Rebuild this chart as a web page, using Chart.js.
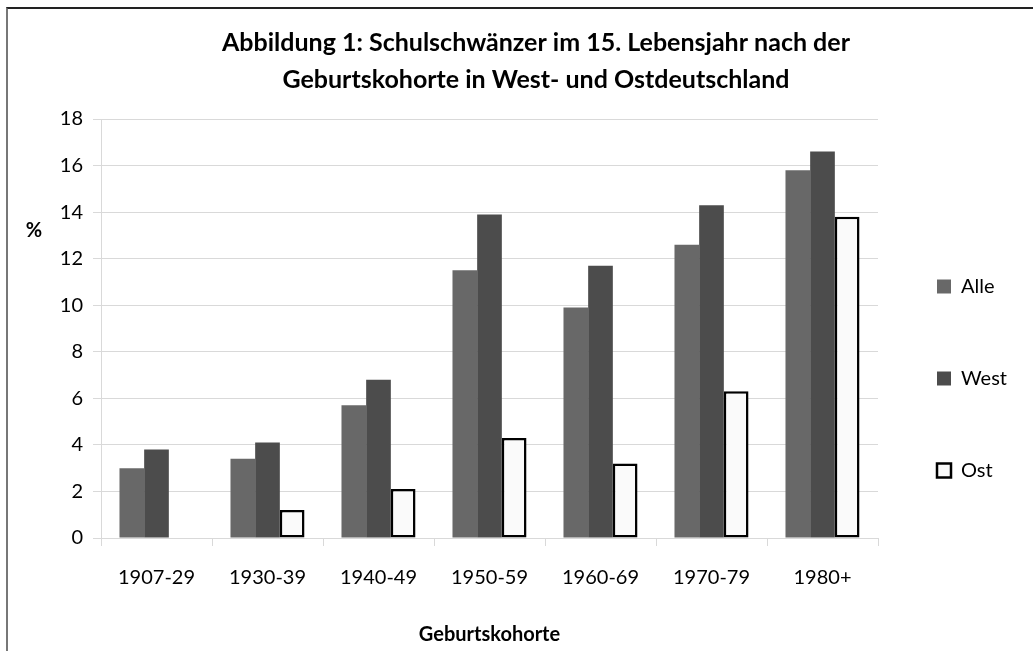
<!DOCTYPE html>
<html>
<head>
<meta charset="utf-8">
<script src="https://cdn.jsdelivr.net/npm/chart.js@4/dist/chart.umd.min.js"></script>
<style>
html, body { margin: 0; padding: 0; background: #fff; overflow: hidden; }
#wrap { position: absolute; left: 0; top: 0; width: 1033px; height: 651px; }
#frame { position: absolute; left: 6px; top: 7px; right: -10px; bottom: -10px;
         border-top: 2px solid #222; border-left: 2px solid #777; pointer-events: none; }
</style>
</head>
<body>
<div id="wrap">
	<canvas id="chart" width="1033" height="651"></canvas>
	<div id="frame"></div>
</div>
<script>
// Daten
const kohorten = ['1907-29', '1930-39', '1940-49', '1950-59', '1960-69', '1970-79', '1980+'];
const alle = [3.0, 3.4, 5.7, 11.5, 9.9, 12.6, 15.8];
const west = [3.8, 4.1, 6.8, 13.9, 11.7, 14.3, 16.6];
const ost = [null, 1.2, 2.1, 4.3, 3.2, 6.3, 13.8];
const titel = ['Abbildung 1: Schulschwänzer im 15. Lebensjahr nach der', 'Geburtskohorte in West- und Ostdeutschland'];
const yTitel = '%';
const xTitel = 'Geburtskohorte';

const schrift = 'Lato';

// "%" steht waagerecht links neben der Achse
const prozentLabel = {
	id: 'prozentLabel',
	afterDraw(chart) {
		const ctx = chart.ctx;
		ctx.save();
		ctx.font = 'bold 20px ' + schrift;
		ctx.fillStyle = '#000';
		ctx.textAlign = 'center';
		ctx.textBaseline = 'middle';
		ctx.fillText(yTitel, chart.chartArea.left - 67, chart.chartArea.top + 112);
		ctx.restore();
	}
};

// Legende etwas nach links/unten schieben (wie im Original)
const legendeVerschieben = {
	id: 'legendeVerschieben',
	afterLayout(chart) {
		const lg = chart.legend;
		lg.left -= 13;
		lg.right -= 13;
		lg.top += 50;
		lg.bottom += 50;
	}
};

let ctx = document.getElementById('chart');
let myChart = new Chart(ctx, {
	type: 'bar',
	data: {
		labels: kohorten,
		datasets: [
			{
				label: 'Alle',
				data: alle,
				backgroundColor: '#686868',
				borderWidth: 0
			},
			{
				label: 'West',
				data: west,
				backgroundColor: '#4c4c4c',
				borderWidth: 0
			},
			{
				label: 'Ost',
				data: ost,
				backgroundColor: '#fafafa',
				borderColor: '#000',
				borderWidth: 2.5,
				borderSkipped: false
			}
		]
	},
	options: {
		responsive: false,
		animation: false,
		categoryPercentage: 0.667,
		barPercentage: 1.0,
		layout: {
			padding: { left: 45, right: 6, top: 8, bottom: 2 }
		},
		plugins: {
			title: {
				display: true,
				text: titel,
				color: '#000',
				font: { family: schrift, size: 25, weight: 'bold', lineHeight: 1.5 },
				padding: { top: 16, bottom: 20 }
			},
			legend: {
				position: 'right',
				maxWidth: 149,
				labels: {
					color: '#000',
					font: { family: schrift, size: 20 },
					boxWidth: 14,
					boxHeight: 14,
					padding: 72
				}
			},
			tooltip: { enabled: false }
		},
		scales: {
			x: {
				grid: {
					offset: true,
					drawOnChartArea: false,
					color: '#d9d9d9',
					tickLength: 8
				},
				border: { color: '#d9d9d9' },
				ticks: {
					color: '#000',
					font: { family: schrift, size: 20 },
					padding: 20
				},
				title: {
					display: true,
					text: xTitel,
					color: '#000',
					font: { family: schrift, size: 20, weight: 'bold' },
					padding: { top: 13, bottom: 2 }
				}
			},
			y: {
				min: 0,
				max: 18,
				afterFit: (axis) => { axis.width = 56; },
				grid: {
					color: '#d9d9d9',
					tickLength: 8
				},
				border: { color: '#d9d9d9' },
				ticks: {
					stepSize: 2,
					color: '#000',
					font: { family: schrift, size: 20 },
					padding: 10
				}
			}
		}
	},
	plugins: [prozentLabel, legendeVerschieben]
});
</script>
</body>
</html>
